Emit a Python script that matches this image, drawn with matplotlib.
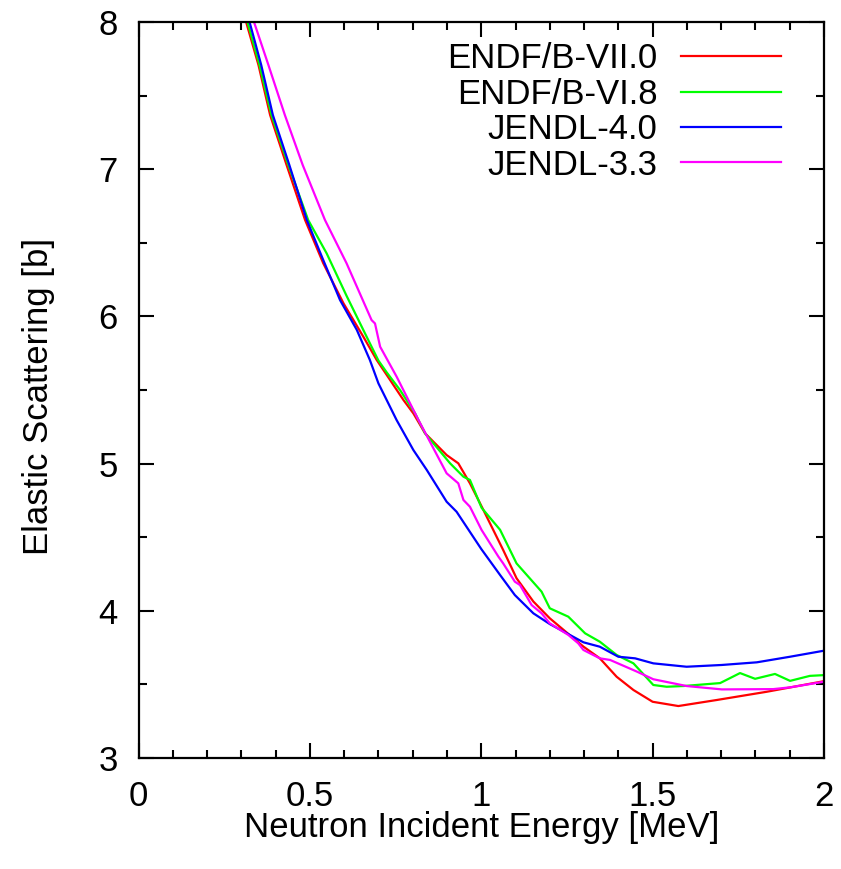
import matplotlib
matplotlib.use("Agg")
import matplotlib.pyplot as plt
from matplotlib.ticker import MultipleLocator, FuncFormatter

plt.rcParams['font.family'] = ['Liberation Sans', 'DejaVu Sans']

# ENDF/B-VII.0
e_endf7 = [0.300, 0.314, 0.350, 0.384, 0.432, 0.486, 0.539, 0.598, 0.656, 0.695, 0.734,
           0.773, 0.802, 0.836, 0.899, 0.933, 0.967, 1.003, 1.064, 1.103, 1.152, 1.200,
           1.298, 1.346, 1.395, 1.444, 1.500, 1.575, 1.687, 1.833, 2.000]
s_endf7 = [8.11, 8.00, 7.708, 7.368, 7.029, 6.655, 6.361, 6.089, 5.862, 5.704, 5.568,
           5.432, 5.341, 5.206, 5.058, 5.002, 4.866, 4.700, 4.413, 4.221, 4.063, 3.949,
           3.757, 3.677, 3.552, 3.462, 3.382, 3.353, 3.394, 3.450, 3.522]

# ENDF/B-VI.8
e_endf6 = [0.300, 0.318, 0.353, 0.388, 0.437, 0.495, 0.549, 0.607, 0.666, 0.700, 0.724,
           0.763, 0.807, 0.836, 0.909, 0.948, 0.967, 1.001, 1.055, 1.103, 1.176, 1.200,
           1.254, 1.303, 1.346, 1.395, 1.444, 1.502, 1.541, 1.590, 1.697, 1.755, 1.799,
           1.857, 1.901, 1.959, 2.000]
s_endf6 = [8.15, 8.00, 7.708, 7.368, 7.029, 6.655, 6.428, 6.14, 5.86, 5.70, 5.62,
           5.50, 5.341, 5.206, 5.002, 4.911, 4.889, 4.700, 4.550, 4.322, 4.130, 4.017,
           3.960, 3.847, 3.790, 3.700, 3.643, 3.496, 3.484, 3.489, 3.509, 3.577, 3.538,
           3.571, 3.524, 3.558, 3.563]

# JENDL-4.0
e_jendl4 = [0.310, 0.324, 0.358, 0.392, 0.440, 0.491, 0.539, 0.588, 0.637, 0.675, 0.700,
            0.753, 0.802, 0.841, 0.899, 0.928, 1.000, 1.055, 1.098, 1.152, 1.200, 1.298,
            1.346, 1.400, 1.449, 1.502, 1.599, 1.702, 1.804, 1.901, 2.000]
s_jendl4 = [8.10, 8.00, 7.708, 7.368, 7.029, 6.655, 6.383, 6.111, 5.908, 5.704, 5.545,
            5.296, 5.092, 4.957, 4.741, 4.673, 4.420, 4.243, 4.107, 3.983, 3.910, 3.786,
            3.756, 3.688, 3.677, 3.643, 3.620, 3.632, 3.650, 3.688, 3.729]

# JENDL-3.3
e_jendl3 = [0.320, 0.337, 0.379, 0.427, 0.479, 0.544, 0.607, 0.680, 0.690, 0.705, 0.753,
            0.816, 0.899, 0.933, 0.948, 0.967, 1.001, 1.050, 1.064, 1.098, 1.113, 1.147,
            1.176, 1.200, 1.254, 1.283, 1.298, 1.346, 1.376, 1.454, 1.502, 1.599, 1.702,
            1.852, 1.901, 2.000]
s_jendl3 = [8.13, 8.00, 7.708, 7.368, 7.029, 6.655, 6.361, 5.975, 5.952, 5.794, 5.591,
            5.300, 4.934, 4.866, 4.753, 4.707, 4.549, 4.368, 4.322, 4.198, 4.175, 4.039,
            3.983, 3.915, 3.836, 3.779, 3.734, 3.677, 3.666, 3.587, 3.535, 3.489, 3.466,
            3.468, 3.480, 3.518]

series = [
    ("ENDF/B-VII.0", e_endf7, s_endf7, "#ff0000"),
    ("ENDF/B-VI.8", e_endf6, s_endf6, "#00ff00"),
    ("JENDL-4.0", e_jendl4, s_jendl4, "#0000ff"),
    ("JENDL-3.3", e_jendl3, s_jendl3, "#ff00ff"),
]

FS = 25

fig = plt.figure(figsize=(8.41, 8.69), dpi=100)
ax = fig.add_axes([138.5 / 841, 1 - 758 / 869, (824 - 138.5) / 841, (758 - 22) / 869])

for name, e, s, c in series:
    ax.plot(e, s, color=c, lw=1.6, label=name)

ax.set_xlim(0, 2)
ax.set_ylim(3, 8)
ax.xaxis.set_major_locator(MultipleLocator(0.5))
ax.xaxis.set_minor_locator(MultipleLocator(0.1))
ax.yaxis.set_major_locator(MultipleLocator(1))
ax.yaxis.set_minor_locator(MultipleLocator(0.5))
ax.xaxis.set_major_formatter(FuncFormatter(lambda v, p: f"{v:g}"))
ax.yaxis.set_major_formatter(FuncFormatter(lambda v, p: f"{v:g}"))

ax.tick_params(which='both', direction='in', top=True, right=True, width=1.5,
               labelsize=FS)
ax.tick_params(axis='x', which='both', pad=16)
ax.tick_params(axis='y', which='both', pad=15)
ax.tick_params(which='major', length=10.8)
ax.tick_params(which='minor', length=5.5)
for sp in ax.spines.values():
    sp.set_linewidth(1.6)

ax.set_xlabel("Neutron Incident Energy [MeV]", fontsize=FS)
ax.set_ylabel("Elastic Scattering [b]", fontsize=FS)
ax.xaxis.set_label_coords(0.5, -0.072)
ax.yaxis.set_label_coords(-0.122, 0.491)

leg = ax.legend(loc='upper right', bbox_to_anchor=(0.9373, 0.9725), frameon=False,
                markerfirst=False, fontsize=FS, handlelength=2.88, handletextpad=0.67,
                labelspacing=0.07, borderpad=0, borderaxespad=0)

fig.savefig("out.png", dpi=100)
